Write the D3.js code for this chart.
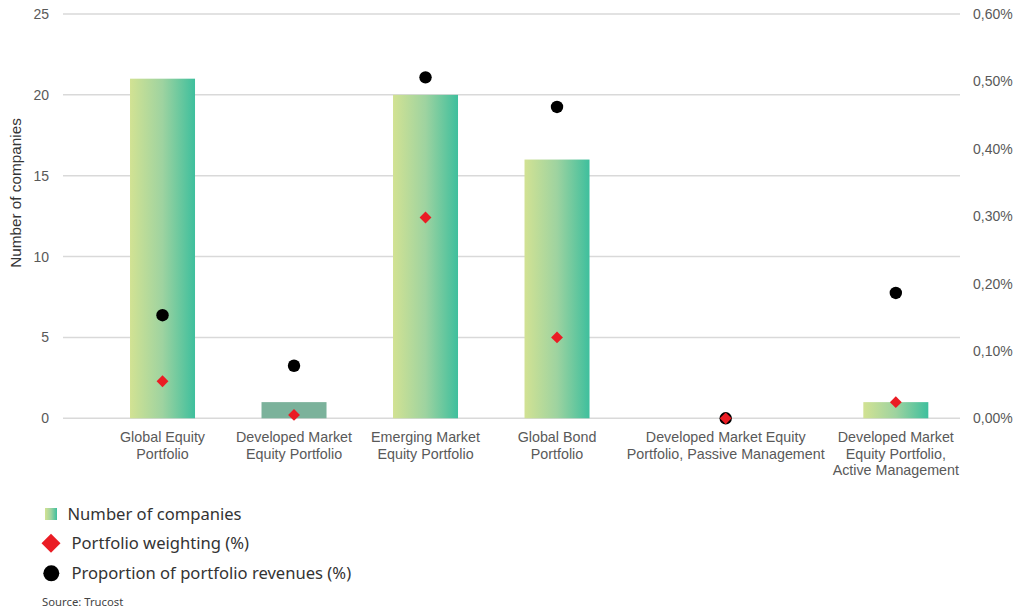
<!DOCTYPE html>
<html>
<head>
<meta charset="utf-8">
<script src="https://cdn.jsdelivr.net/npm/d3@7"></script>
<style>
  html, body { margin: 0; padding: 0; background: #fff; }
  svg { display: block; }
</style>
</head>
<body>
<svg id="chart" width="1019" height="613"></svg>
<script>
// Portfolio categories, each label split into its display lines
const categories = [
  "Global Equity Portfolio",
  "Developed Market Equity Portfolio",
  "Emerging Market Equity Portfolio",
  "Global Bond Portfolio",
  "Developed Market Equity Portfolio, Passive Management",
  "Developed Market Equity Portfolio, Active Management"
];
const categoryLines = [
  ["Global Equity", "Portfolio"],
  ["Developed Market", "Equity Portfolio"],
  ["Emerging Market", "Equity Portfolio"],
  ["Global Bond", "Portfolio"],
  ["Developed Market Equity", "Portfolio, Passive Management"],
  ["Developed Market", "Equity Portfolio,", "Active Management"]
];

// Number of companies (left axis)
const companies = [21, 1, 20, 16, 0, 1];
// Portfolio weighting, % (right axis)
const weighting = [0.055, 0.005, 0.298, 0.12, 0, 0.024];
// Proportion of portfolio revenues, % (right axis)
const revenues = [0.153, 0.078, 0.506, 0.462, 0, 0.186];

const leftTicks = [0, 5, 10, 15, 20, 25];
const rightTicks = [0, 0.1, 0.2, 0.3, 0.4, 0.5, 0.6];

const legendLabels = [
  "Number of companies",
  "Portfolio weighting (%)",
  "Proportion of portfolio revenues (%)"
];
const sourceText = "Source: Trucost";

// ---- layout ----
const plotLeft = 63, plotRight = 960, plotTop = 14, plotBottom = 418.3;
const axisFont = "'Liberation Sans', Arial, sans-serif";
const legendFont = "'Noto Sans', 'Open Sans', sans-serif";
const labelColor = "#595959";
const labelSize = 14.3;

const svg = d3.select("#chart");

const defs = svg.append("defs");
const grad = defs.append("linearGradient")
  .attr("id", "barGrad").attr("x1", "0%").attr("x2", "100%").attr("y1", "0%").attr("y2", "0%");
grad.append("stop").attr("offset", "0%").attr("stop-color", "#d2e293");
grad.append("stop").attr("offset", "50%").attr("stop-color", "#9ed3a0");
grad.append("stop").attr("offset", "100%").attr("stop-color", "#3ebf9d");

const yLeft = d3.scaleLinear().domain([0, 25]).range([plotBottom, plotTop]);
const yRight = d3.scaleLinear().domain([0, 0.6]).range([plotBottom, plotTop]);

// Category slots are sized by their widest label line so long labels get room
const measure = svg.append("text")
  .attr("font-family", axisFont).attr("font-size", labelSize);
const slotWidths = categoryLines.map(lines => {
  const w = d3.max(lines, l => { measure.text(l); return measure.node().getComputedTextLength(); });
  return Math.max(131.5, w + 8);
});
measure.remove();
const slotTotal = d3.sum(slotWidths);
let cursor = plotRight + 3 - slotTotal;
const centers = slotWidths.map(w => { const c = cursor + w / 2; cursor += w; return c; });
const x = d3.scaleOrdinal().domain(categories).range(centers);
const barWidth = 65;

// gridlines
svg.append("g")
  .selectAll("line").data(leftTicks).join("line")
  .attr("x1", plotLeft).attr("x2", plotRight)
  .attr("y1", d => yLeft(d)).attr("y2", d => yLeft(d))
  .attr("stroke", "#d9d9d9").attr("stroke-width", 1.5);

// left axis
const leftAxis = d3.axisLeft(yLeft).tickValues(leftTicks).tickFormat(d3.format("d")).tickSize(0).tickPadding(0);
const gL = svg.append("g").attr("transform", `translate(49,0)`).call(leftAxis);
gL.select(".domain").remove();
gL.selectAll("text").attr("font-family", axisFont).attr("font-size", 14).attr("fill", labelColor);

// right axis with comma decimals
const locale = d3.formatLocale({ decimal: ",", thousands: ".", grouping: [3], currency: ["", ""] });
const pct = locale.format(".2f");
const rightAxis = d3.axisRight(yRight).tickValues(rightTicks).tickFormat(d => pct(d) + "%").tickSize(0).tickPadding(0);
const gR = svg.append("g").attr("transform", `translate(973,0)`).call(rightAxis);
gR.select(".domain").remove();
gR.selectAll("text").attr("font-family", axisFont).attr("font-size", 14).attr("fill", labelColor);

// left axis title
svg.append("text")
  .attr("transform", `translate(20.5,193) rotate(-90)`)
  .attr("text-anchor", "middle")
  .attr("font-family", axisFont).attr("font-size", 15.3).attr("fill", "#333")
  .text("Number of companies");

// bars
svg.append("g")
  .selectAll("rect").data(categories).join("rect")
  .attr("x", (d) => x(d) - barWidth / 2)
  .attr("width", barWidth)
  .attr("y", (d, i) => yLeft(companies[i]))
  .attr("height", (d, i) => yLeft(0) - yLeft(companies[i]))
  .attr("fill", (d, i) => i === 1 ? "#7bb29b" : "url(#barGrad)");

// revenue dots
svg.append("g")
  .selectAll("circle").data(categories).join("circle")
  .attr("cx", d => x(d))
  .attr("cy", (d, i) => yRight(revenues[i]))
  .attr("r", 6.2)
  .attr("fill", "#000");

// weighting diamonds
const diamond = d3.symbol().type(d3.symbolSquare).size(70);
svg.append("g")
  .selectAll("path").data(categories).join("path")
  .attr("d", diamond)
  .attr("transform", (d, i) => `translate(${x(d)},${yRight(weighting[i])}) rotate(45)`)
  .attr("fill", "#ea1c24");

// category labels
const xl = svg.append("g");
categories.forEach((c, i) => {
  const t = xl.append("text")
    .attr("text-anchor", "middle")
    .attr("font-family", axisFont).attr("font-size", labelSize).attr("fill", labelColor);
  categoryLines[i].forEach((line, j) => {
    t.append("tspan").attr("x", x(c)).attr("y", 441.8 + j * 16.7).text(line);
  });
});

// legend
const lg = svg.append("g");
lg.append("rect").attr("x", 45).attr("y", 508).attr("width", 12).attr("height", 12).attr("fill", "url(#barGrad)");
lg.append("path")
  .attr("d", d3.symbol().type(d3.symbolSquare).size(180))
  .attr("transform", "translate(51,543.3) rotate(45)")
  .attr("fill", "#ea1c24");
lg.append("circle").attr("cx", 51.3).attr("cy", 573.3).attr("r", 8).attr("fill", "#000");

const legendX = [67.5, 71.5, 71.5];
const legendY = [514, 543.3, 573.3];
legendLabels.forEach((l, i) => {
  lg.append("text")
    .attr("x", legendX[i]).attr("y", legendY[i]).attr("dy", "0.36em")
    .attr("font-family", legendFont).attr("font-size", 16.6).attr("fill", "#333")
    .text(l);
});
lg.append("text")
  .attr("x", 42).attr("y", 602).attr("dy", "0.36em")
  .attr("font-family", legendFont).attr("font-size", 11.3).attr("fill", "#444")
  .text(sourceText);
</script>
</body>
</html>
